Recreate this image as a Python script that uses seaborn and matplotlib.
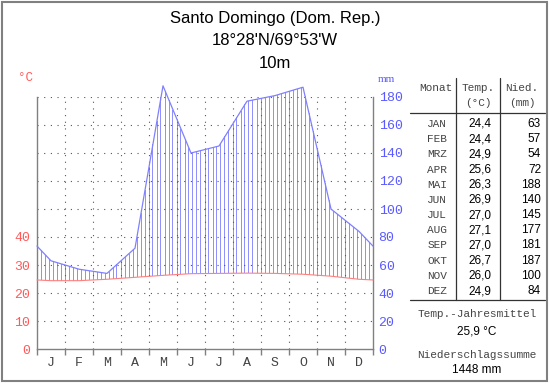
import numpy as np
import pandas as pd
import matplotlib
matplotlib.use("Agg")
import matplotlib.pyplot as plt
import matplotlib.patches as mpatches
import matplotlib.lines as mlines
import seaborn as sns

# data
month_letters = ['J', 'F', 'M', 'A', 'M', 'J', 'J', 'A', 'S', 'O', 'N', 'D']
month_names = ['JAN', 'FEB', 'MRZ', 'APR', 'MAI', 'JUN', 'JUL', 'AUG', 'SEP', 'OKT', 'NOV', 'DEZ']
temp = [24.4, 24.4, 24.9, 25.6, 26.3, 26.9, 27.0, 27.1, 27.0, 26.7, 26.0, 24.9]
prec = [63, 57, 54, 72, 188, 140, 145, 177, 181, 187, 100, 84]
temp_ticks = [0, 10, 20, 30, 40]
prec_ticks = [0, 20, 40, 60, 80, 100, 120, 140, 160, 180]
title_lines = ['Santo Domingo (Dom. Rep.)', "18°28'N/69°53'W", '10m']
mean_temp = '25,9 °C'
total_prec = '1448 mm'

RED = '#ff5a5a'
BLUE = '#5a5aff'
LBLUE = '#9090ff'
GRAY = '#808080'
TXT = '#444444'
MONO = 'Liberation Mono'
SANS = 'Liberation Sans'

sns.set_theme(style='white')
plt.rcParams['font.family'] = [SANS, 'DejaVu Sans']

W, H = 550, 384
fig = plt.figure(figsize=(W / 100, H / 100), dpi=100)


def fx(x):
    return x / W


def fy(y):
    return 1 - y / H


# month centers plus edge points (mean of Dec/Jan)
x = np.concatenate([[0], np.arange(12) + 0.5, [12]])
t_edge = (temp[0] + temp[-1]) / 2
p_edge = (prec[0] + prec[-1]) / 2
t_vals = np.concatenate([[t_edge], temp, [t_edge]]) * 2  # 10 °C = 20 mm
p_vals = np.concatenate([[p_edge], prec, [p_edge]])
df = pd.DataFrame({'x': x, 'temp': t_vals, 'prec': p_vals})

ax = fig.add_axes([fx(37), fy(349), 336 / W, 252 / H])
ax.set_xlim(0, 12)
ax.set_ylim(0, 180)
ax.set_facecolor('white')

# humid hatching: 1 px wide columns every 4 px
px_w = 12 / 336
hx = np.arange(0, 12.0001, 1 / 7)
ht = np.interp(hx, df['x'], df['temp'])
hp = np.interp(hx, df['x'], df['prec'])
ax.bar(hx, hp - ht, bottom=ht, width=px_w, color=LBLUE, linewidth=0,
       antialiased=False, clip_on=False, zorder=1)

# dotted grid
for yv in prec_ticks[1:]:
    ax.axhline(yv, color='#555555', lw=0.8, ls=(0, (1, 5)), zorder=2)
for xv in range(1, 12):
    ax.axvline(xv, color='#555555', lw=0.8, ls=(0, (1, 5)), zorder=2)

sns.lineplot(data=df, x='x', y='prec', ax=ax, color='#8080ff', lw=0.9, clip_on=False, zorder=3)
sns.lineplot(data=df, x='x', y='temp', ax=ax, color='#ff8080', lw=0.8, clip_on=False, zorder=3)

for s in ['left', 'right', 'bottom']:
    ax.spines[s].set_color(GRAY)
    ax.spines[s].set_linewidth(1)
ax.spines['top'].set_visible(False)

ax.set_xlim(0, 12)
ax.set_xticks(np.arange(12) + 0.5)
ax.set_xticklabels(month_letters, fontfamily=MONO, fontsize=9.5, color=TXT)
ax.set_xticks(range(13), minor=True)
ax.tick_params(axis='x', which='major', length=0, pad=6)
ax.tick_params(axis='x', which='minor', length=4, color=GRAY, width=1, bottom=True)
ax.set_yticks([v * 2 for v in temp_ticks])
ax.set_yticklabels([str(v) for v in temp_ticks], fontfamily=MONO, fontsize=9.5, color=RED)
ax.tick_params(axis='y', length=0, pad=5, left=True)
ax.set_xlabel('')
ax.set_ylabel('')

ax2 = ax.twinx()
ax2.set_ylim(0, 180)
ax2.set_yticks(prec_ticks)
ax2.set_yticklabels([str(v) for v in prec_ticks], fontfamily=MONO, fontsize=9.5, color=BLUE)
ax2.tick_params(axis='y', length=0, pad=4)
for s in ax2.spines.values():
    s.set_visible(False)
ax2.grid(False)

fig.text(fx(26), fy(78), '°C', color=RED, fontfamily=MONO, fontsize=9, ha='center', va='center')
fig.text(fx(386), fy(80), 'mm', color=BLUE, fontfamily='Liberation Serif', fontsize=8, ha='center', va='center')

# title
for i, line in enumerate(title_lines):
    fig.text(fx(275), fy(18 + i * 22.5), line, fontsize=12, ha='center', va='center', color='black')

# table
fs = 8
fig.text(fx(436), fy(88), 'Monat', fontfamily=MONO, fontsize=fs, ha='center', va='center', color=TXT)
fig.text(fx(478), fy(88), 'Temp.', fontfamily=MONO, fontsize=fs, ha='center', va='center', color=TXT)
fig.text(fx(478), fy(103), '(°C)', fontfamily=MONO, fontsize=fs, ha='center', va='center', color=TXT)
fig.text(fx(522), fy(88), 'Nied.', fontfamily=MONO, fontsize=fs, ha='center', va='center', color=TXT)
fig.text(fx(522), fy(103), '(mm)', fontfamily=MONO, fontsize=fs, ha='center', va='center', color=TXT)
row_h = (291 - 124) / 11
for i, (m, t, p) in enumerate(zip(month_names, temp, prec)):
    yy = fy(124 + i * row_h)
    fig.text(fx(447), yy, m, fontfamily=MONO, fontsize=fs, ha='right', va='center', color=TXT)
    fig.text(fx(491), yy, f'{t:.1f}'.replace('.', ','), fontsize=8.5, ha='right', va='center', color='black')
    fig.text(fx(541), yy, str(p), fontsize=8.5, ha='right', va='center', color='black')

for xl in [456, 500]:
    fig.add_artist(mlines.Line2D([fx(xl), fx(xl)], [fy(78), fy(300)], color='#333333', lw=0.9))
for yl in [113, 300]:
    fig.add_artist(mlines.Line2D([fx(410), fx(545)], [fy(yl), fy(yl)], color='#333333', lw=0.9))

fig.text(fx(477), fy(314), 'Temp.-Jahresmittel', fontfamily=MONO, fontsize=fs, ha='center', va='center', color=TXT)
fig.text(fx(477), fy(331), mean_temp, fontsize=8.5, ha='center', va='center', color='black')
fig.text(fx(477), fy(355), 'Niederschlagssumme', fontfamily=MONO, fontsize=fs, ha='center', va='center', color=TXT)
fig.text(fx(477), fy(370), total_prec, fontsize=8.5, ha='center', va='center', color='black')

# outer frame
fig.add_artist(mpatches.Rectangle((fx(2), fy(381)), fx(545), 379 / H, fill=False,
                                  edgecolor=GRAY, lw=1.5, transform=fig.transFigure))

fig.savefig('out.png', dpi=100, facecolor='white')
